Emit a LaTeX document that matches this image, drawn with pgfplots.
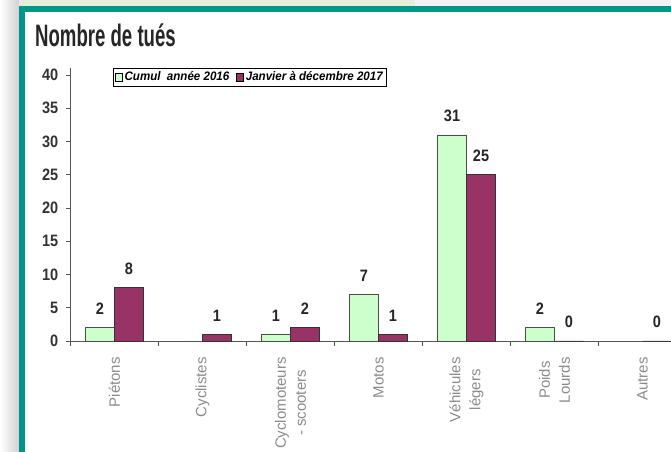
\documentclass[border=0pt]{standalone}
\usepackage{fontspec}
\setmainfont{Liberation Sans}
\newfontfamily\titlefont[FakeStretch=0.6]{Liberation Sans}
\newfontfamily\numfont[FakeStretch=0.88]{Liberation Sans}
\newfontfamily\legfont[FakeStretch=0.94]{Liberation Sans}
\usepackage{pgfplots}
\pgfplotsset{compat=1.18}
\definecolor{teal1}{HTML}{00968A}
\definecolor{vert}{HTML}{CCFFCC}
\definecolor{prune}{HTML}{993366}
\definecolor{axgray}{HTML}{555555}
\definecolor{labgray}{HTML}{8C8C8C}
\definecolor{topgreen}{HTML}{E3EFD9}
\begin{document}
\begin{tikzpicture}[x=1bp,y=1bp]
\useasboundingbox (0,0) rectangle (671,452);
% background decoration
\fill[white] (0,0) rectangle (671,452);
\shade[left color=white, right color=black!18] (0,0) rectangle (19,452);
\fill[topgreen] (19,446) rectangle (415,452);
\fill[black!5] (415,446) rectangle (671,452);
\fill[teal1] (19,0) rectangle (25,446);
\fill[teal1] (19,440) rectangle (671,446);
\node[anchor=base west, inner sep=0, font=\titlefont\bfseries\fontsize{31bp}{31bp}\selectfont, text=black!85] at (35,405.5) {Nombre de tués};
\begin{axis}[
  at={(70.5bp,111bp)}, anchor=south west,
  scale only axis, width=600.5bp, height=272.65bp,
  ybar=0pt, bar width=29bp,
  xmin=-0.5, xmax=6.324, ymin=0, ymax=41,
  axis x line=bottom, axis y line=left,
  axis line style={-, draw=axgray, line width=0.8bp},
  tick align=outside,
  xtick={0,...,6},
  xticklabels={Piétons, Cyclistes, {Cyclomoteurs\\- scooters}, Motos, {Véhicules\\légers}, {Poids\\Lourds}, Autres},
  major x tick style={draw=none},
  minor xtick={-0.5,0.5,...,5.5},
  minor x tick style={draw=axgray, line width=0.8bp},
  minor tick length=5bp,
  ytick={0,5,...,40},
  major tick length=5bp,
  major y tick style={draw=axgray, line width=0.8bp},
  xticklabel style={rotate=90, anchor=east, align=center, inner sep=0,
     font=\fontsize{15bp}{20bp}\selectfont, text=labgray},
  xticklabel shift=11bp,
  yticklabel style={font=\numfont\bfseries\fontsize{16.5bp}{16.5bp}\selectfont, text=black!80, inner sep=0},
  yticklabel shift=7bp,
  /pgf/number format/assume math mode=true,
  clip=false,
  nodes near coords,
  every node near coord/.append style={font=\numfont\bfseries\fontsize{16.5bp}{16.5bp}\selectfont, text=black!85, inner sep=0, anchor=south, yshift=13bp},
  legend style={at={(axis description cs:0.0708,1.003)}, anchor=north west,
     draw=black, line width=0.6bp, fill=white, inner sep=1.8bp,
     font=\legfont\bfseries\itshape\fontsize{12.3bp}{12.3bp}\selectfont,
     legend columns=2,
     /tikz/every even column/.append style={column sep=5bp}},
  legend image code/.code={\draw[#1, draw=black, line width=0.5bp] (0bp,-4bp) rectangle (7bp,4bp);},
]
\addplot[fill=vert, draw=black!70, line width=0.6bp] coordinates {(0,2) (2,1) (3,7) (4,31) (5,2)};
\addplot[fill=prune, draw=black!80, line width=0.6bp] coordinates {(0,8) (1,1) (2,2) (3,1) (4,25) (5,0) (6,0)};
\legend{Cumul~ année 2016, Janvier à décembre 2017}
\end{axis}
\end{tikzpicture}
\end{document}
